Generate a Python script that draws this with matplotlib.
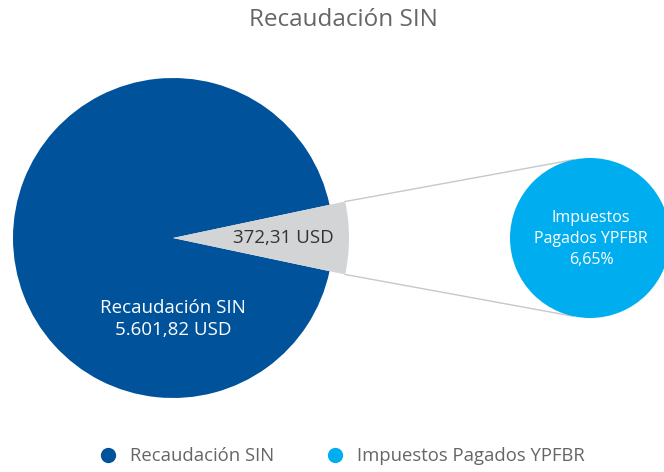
import numpy as np
import matplotlib.pyplot as plt
from matplotlib.lines import Line2D

# datos
recaudacion_sin = 5601.82
impuestos_ypfbr = 372.31
etiquetas = ['Recaudación SIN', 'Impuestos Pagados YPFBR']
colores = ['#00529B', '#00AEEF', '#D3D4D6']

frac = impuestos_ypfbr / recaudacion_sin
pct = frac * 100

plt.rcParams['font.family'] = ['Open Sans', 'DejaVu Sans']

fig = plt.figure(figsize=(6.64, 4.72), dpi=100)
ax = fig.add_axes([0, 0, 1, 1])

# pie principal (pixel coords)
cx, cy, r = 173, 234, 160
wedges, _ = ax.pie([recaudacion_sin - impuestos_ypfbr, impuestos_ypfbr],
                   colors=[colores[0], colores[2]], startangle=frac * 180,
                   center=(cx, cy), radius=r, frame=True)
r2 = 176
wedges[1].set_radius(r2)

# circulo secundario
sx, sy, sr = 590, 234, 80
ax.pie([impuestos_ypfbr], colors=[colores[1]], center=(sx, sy), radius=sr, frame=True)
ax.set_xlim(0, 664)
ax.set_ylim(0, 472)
ax.set_aspect('equal')
ax.axis('off')

# lineas de conexion
a = np.deg2rad(frac * 180)
b = np.deg2rad(102)
for s in (1, -1):
    x0, y0 = cx + r2 * np.cos(a), cy + s * r2 * np.sin(a)
    x1, y1 = sx + sr * np.cos(b), sy + s * sr * np.sin(b)
    ax.plot([x0, x1], [y0, y1], color='#C8C8C8', lw=1, zorder=0)

def fmt(v):
    return f'{v:,.2f}'.replace(',', 'X').replace('.', ',').replace('X', '.')

ax.text(283, cy, fmt(impuestos_ypfbr) + ' USD', ha='center', va='center',
        fontsize=13.5, color='#333333')
ax.text(cx, 472 - 319, etiquetas[0] + '\n' + fmt(recaudacion_sin) + ' USD',
        ha='center', va='center', fontsize=13.5, color='white', linespacing=1.3)
ax.text(sx + 1, sy - 1, 'Impuestos\nPagados YPFBR\n' + f'{pct:.2f}'.replace('.', ',') + '%',
        ha='center', va='center', fontsize=11.5, color='white', linespacing=1.45)

fig.text(343 / 664, 1 - 20 / 472, 'Recaudación SIN', ha='center', va='center',
         fontsize=17.5, color='#666666')

handles = [Line2D([], [], marker='o', ls='', color=c, markersize=10) for c in colores[:2]]
fig.legend(handles, etiquetas, loc='center', bbox_to_anchor=(0.508, 1 - 456 / 472),
           ncol=2, frameon=False, fontsize=13.3, labelcolor='#666666',
           handletextpad=0.2, columnspacing=2.3)

fig.savefig('out.png', dpi=100)
